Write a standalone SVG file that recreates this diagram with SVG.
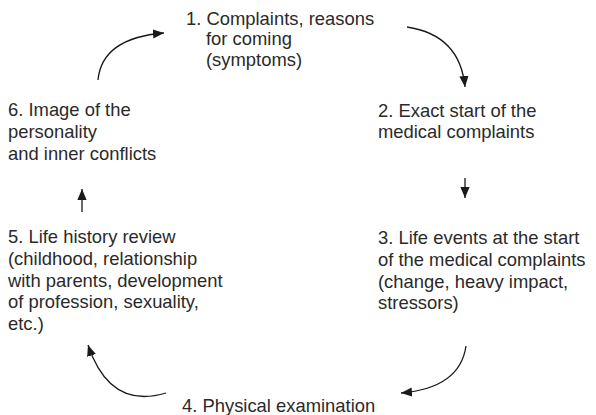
<svg xmlns="http://www.w3.org/2000/svg" width="596" height="415" viewBox="0 0 596 415">
  <style>
    text { font-family: "Liberation Sans", Arial, sans-serif; font-size: 18.4px; fill: #2a2a2a; }
    .conn { fill: none; stroke: #1a1a1a; stroke-width: 1.3; marker-end: url(#arrow); }
  </style>
  <defs>
    <marker id="arrow" viewBox="0 0 10 10" refX="10" refY="5" markerWidth="11" markerHeight="11" markerUnits="userSpaceOnUse" orient="auto">
      <path d="M0,0.8 L10,5 L0,9.2 Z" fill="#1a1a1a"/>
    </marker>
  </defs>
  <rect width="596" height="415" fill="#ffffff"/>

  <g id="node1">
    <text x="186" y="24.5">1. Complaints, reasons</text>
    <text x="206" y="45">for coming</text>
    <text x="206" y="66">(symptoms)</text>
  </g>
  <g id="node2">
    <text x="378" y="117">2. Exact start of the</text>
    <text x="378" y="138">medical complaints</text>
  </g>
  <g id="node3">
    <text x="378" y="244">3. Life events at the start</text>
    <text x="378" y="266">of the medical complaints</text>
    <text x="378" y="287.5">(change, heavy impact,</text>
    <text x="378" y="309">stressors)</text>
  </g>
  <g id="node4">
    <text x="182" y="412">4. Physical examination</text>
  </g>
  <g id="node5">
    <text x="8" y="243">5. Life history review</text>
    <text x="8" y="265">(childhood, relationship</text>
    <text x="8" y="287">with parents, development</text>
    <text x="8" y="308">of profession, sexuality,</text>
    <text x="8" y="330">etc.)</text>
  </g>
  <g id="node6">
    <text x="8" y="116">6. Image of the</text>
    <text x="8" y="138">personality</text>
    <text x="8" y="160">and inner conflicts</text>
  </g>

  <g id="connectors">
    <path class="conn" d="M407,27 Q460,35 465,87"/>
    <path class="conn" d="M465,178 L465,198"/>
    <path class="conn" d="M466,346 Q460,388 401,393"/>
    <path class="conn" d="M166,393 Q110,410 88,345"/>
    <path class="conn" d="M82,212 L82,189"/>
    <path class="conn" d="M98,80 Q102,38 164,33"/>
  </g>
</svg>
